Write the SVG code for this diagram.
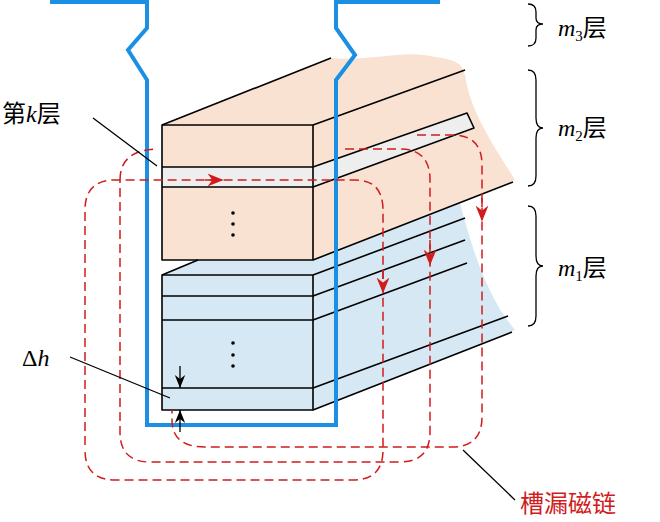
<svg xmlns="http://www.w3.org/2000/svg" width="660" height="522" viewBox="0 0 660 522">
<style>
.k{fill:none;stroke:#000;stroke-width:1.6;stroke-linejoin:round}
.d{fill:none;stroke:#d01c1c;stroke-width:1.5;stroke-dasharray:9 5}
.t{font-family:"Liberation Serif","Noto Sans CJK SC",serif;font-size:24px}
.br{fill:none;stroke:#000;stroke-width:1.3}
</style>
<defs>
<marker id="ra" viewBox="0 0 10 10" refX="9" refY="5" markerWidth="16" markerHeight="16" markerUnits="userSpaceOnUse" orient="auto"><path d="M0,1L10,5L0,9L3,5Z" fill="#d01c1c"/></marker>
<marker id="ka" viewBox="0 0 10 10" refX="10" refY="5" markerWidth="13" markerHeight="13" markerUnits="userSpaceOnUse" orient="auto"><path d="M0,1L10,5L0,9L3,5Z" fill="#000"/></marker>
</defs>
<g id="backgrounds">
<path d="M162,125 L331,58 C370,62 400,50 430,56 C455,60 462,62 465,75 C470,110 490,140 515,180 L313,260 L162,260 Z" fill="#f9e2d2"/>
<path d="M162,275 L198,260 L313,260 L460,203 C470,240 485,295 515,330 L313,410 L162,410 Z" fill="#d6e8f3"/>
</g>
<g id="upper-block">
<rect x="162" y="167" width="151" height="20" fill="#eeeeee"/>
<path d="M313,167 L467,113 L474,128 L313,187 Z" fill="#eeeeee"/>
<path class="k" d="M162,125 L331,58 M313,125 L465,70 M313,167 L467,113 L474,128 L313,187 M313,260 L513,182"/>
<rect class="k" x="162" y="125" width="151" height="135"/>
<path class="k" d="M162,167 H313 M162,187 H313"/>
<circle cx="233" cy="213" r="1.8"/><circle cx="233" cy="224" r="1.8"/><circle cx="233" cy="235" r="1.8"/>
</g>
<g id="lower-block">
<path class="k" d="M162,275 L198,260 M313,275 L465,218 M313,296 L465,240 M313,320 L467,263 M313,388 L508,316 M313,410 L512,332"/>
<rect class="k" x="162" y="275" width="151" height="135"/>
<path class="k" d="M162,296 H313 M162,320 H313 M162,388 H313"/>
<circle cx="233" cy="343" r="1.8"/><circle cx="233" cy="355" r="1.8"/><circle cx="233" cy="366" r="1.8"/>
</g>
<g id="slot">
<path d="M50,2 H147 V28 L128,50 L147,80 V425 H336 V80 L355,55 L336,28 V2 H440" fill="none" stroke="#1a8fe3" stroke-width="4" stroke-linejoin="miter"/>
</g>
<g id="connectors">
<path class="d" d="M85,445 V210 Q85,180 115,180 H355 Q383,180 383,210 V450 Q383,480 353,480 H115 Q85,480 85,450"/>
<path class="d" d="M205,180 H222" marker-end="url(#ra)"/>
<path class="d" d="M383,270 V292" marker-end="url(#ra)"/>
<path class="d" d="M120,180 Q120,150 157,149"/>
<path class="d" d="M345,149 H400 Q430,149 430,180 V432 Q430,462 400,462 H150 Q120,462 120,432 V180"/>
<path class="d" d="M430,240 V264" marker-end="url(#ra)"/>
<path class="d" d="M417,135 H452 Q482,135 482,165 V417 Q482,447 452,447 H205 Q172,447 172,420 V410"/>
<path class="d" d="M482,198 V220" marker-end="url(#ra)"/>
<path fill="none" stroke="#000" stroke-width="1.3" d="M180,366 V388" marker-end="url(#ka)"/>
<path fill="none" stroke="#000" stroke-width="1.3" d="M180,432 V410" marker-end="url(#ka)"/>
<path fill="none" stroke="#000" stroke-width="1.3" d="M93,118 L157,166 M70,357 L170,398 M463,450 L515,500"/>
</g>
<g id="labels">
<text class="t" x="2" y="122">第<tspan font-style="italic">k</tspan>层</text>
<text class="t" x="22" y="366">Δ<tspan font-style="italic">h</tspan></text>
<text class="t" x="520" y="512" fill="#d01c1c">槽漏磁链</text>
<text class="t" x="558" y="36"><tspan font-style="italic">m</tspan><tspan font-size="15" dy="5">3</tspan><tspan dy="-5">层</tspan></text>
<text class="t" x="558" y="136"><tspan font-style="italic">m</tspan><tspan font-size="15" dy="5">2</tspan><tspan dy="-5">层</tspan></text>
<text class="t" x="558" y="276"><tspan font-style="italic">m</tspan><tspan font-size="15" dy="5">1</tspan><tspan dy="-5">层</tspan></text>
<path class="br" d="M528,4 Q536,4 536,12 V18 Q536,24 543,24 Q536,24 536,30 V38 Q536,46 528,46"/>
<path class="br" d="M528,70 Q536,70 536,80 V118 Q536,128 543,128 Q536,128 536,138 V176 Q536,186 528,186"/>
<path class="br" d="M528,206 Q536,206 536,216 V256 Q536,266 543,266 Q536,266 536,276 V316 Q536,326 528,326"/>
</g>
</svg>
